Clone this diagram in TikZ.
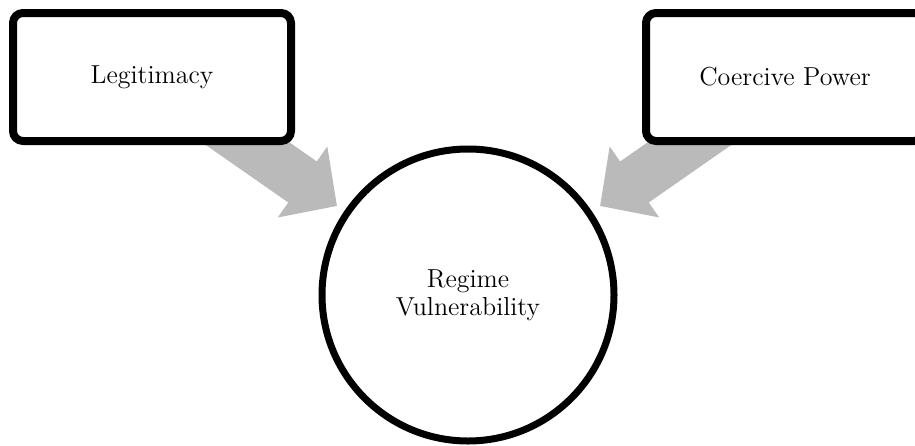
\documentclass[tikz,border=0pt]{standalone}
\usepackage{amsmath}
\usetikzlibrary{arrows.meta, backgrounds}
\definecolor{flowgray}{RGB}{186,186,186}

\begin{document}
\begin{tikzpicture}[x=0.5pt,y=-0.5pt,
    factor/.style={draw,line width=4pt,rounded corners=5pt,fill=white,minimum width=139pt,minimum height=64pt,font=\fontsize{13}{14}\selectfont},
    outcome/.style={draw,circle,line width=3.5pt,fill=white,minimum size=146pt,align=center,font=\fontsize{13}{14}\selectfont},
    flow/.style={flowgray,line width=25pt,-{Triangle[width=42pt,length=21pt]}}]
            \useasboundingbox (0,0) rectangle (915,445);
            \node[factor] (legit) at (152,77) {Legitimacy};
            \node[factor] (coerc) at (785,77) {Coercive Power};
            \node[outcome] (regime) at (468,295) {Regime\\Vulnerability};
            \coordinate (tipL) at (337,206);
            \coordinate (tipR) at (600,206);
            \begin{scope}[on background layer]
                \draw[flow] (legit.center)--(tipL);
                \draw[flow] (coerc.center)--(tipR);
            \end{scope}
        \end{tikzpicture}
\end{document}
